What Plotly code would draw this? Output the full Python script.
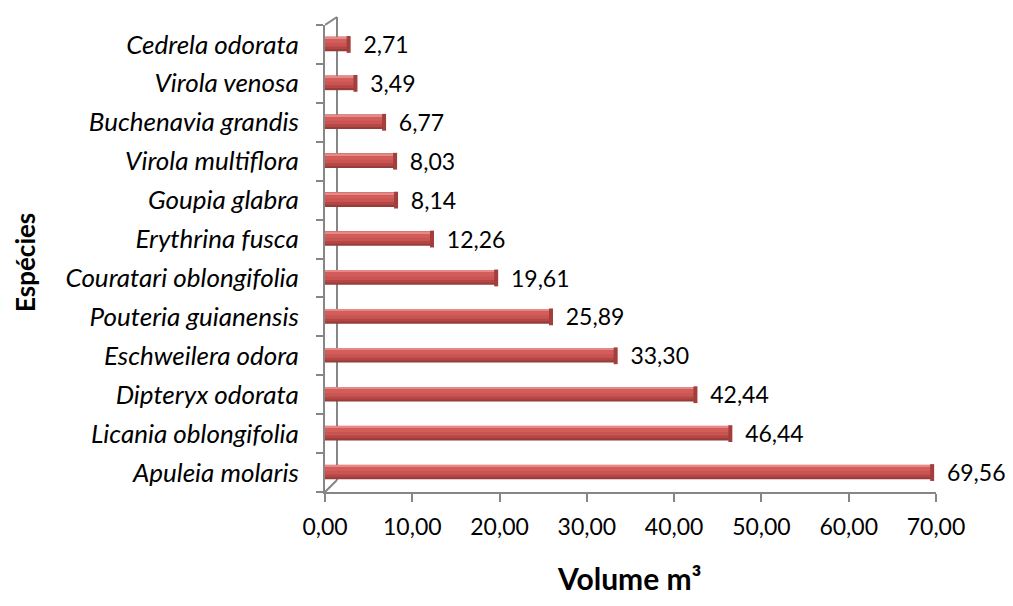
import plotly.graph_objects as go

# Data (bottom to top as drawn)
species = ["Apuleia molaris", "Licania oblongifolia", "Dipteryx odorata", "Eschweilera odora",
           "Pouteria guianensis", "Couratari oblongifolia", "Erythrina fusca", "Goupia glabra",
           "Virola multiflora", "Buchenavia grandis", "Virola venosa", "Cedrela odorata"]
volume = [69.56, 46.44, 42.44, 33.30, 25.89, 19.61, 12.26, 8.14, 8.03, 6.77, 3.49, 2.71]
x_ticks = [0, 10, 20, 30, 40, 50, 60, 70]

FONT = "Lato, Carlito, Calibri, sans-serif"
GRAY = "#868686"

fig = go.Figure()

# cylinder-like shading via stacked overlay bars
layers = [
    (0.37, -0.175, "#963c3a"),
    (0.31, -0.12, "#b44745"),
    (0.25, -0.05, "#c95452"),
    (0.15, 0.04, "#d35d5b"),
    (0.04, 0.155, "#e58a87"),
]
for i, (w, off, col) in enumerate(layers):
    fig.add_trace(go.Bar(
        x=volume, y=species, orientation="h",
        width=w, offset=off,
        marker=dict(color=col, line=dict(width=0)),
        text=["\u00a0\u00a0" + f"{v:.2f}".replace(".", ",") for v in volume] if i == 0 else None,
        textposition="outside" if i == 0 else "none",
        textfont=dict(family=FONT, size=23, color="#000000"),
        cliponaxis=False, constraintext="none",
        hoverinfo="skip", showlegend=False,
    ))

# darker end caps of the cylinders
fig.add_trace(go.Scatter(
    x=volume, y=species, mode="markers",
    marker=dict(symbol="line-ns-open", size=12, color="#a23f3d",
                line=dict(width=4, color="#a23f3d")),
    cliponaxis=False, hoverinfo="skip", showlegend=False,
))

fig.update_layout(
    width=1013, height=606,
    margin=dict(l=317, r=85, t=17, b=122),
    paper_bgcolor="white", plot_bgcolor="white",
    barmode="overlay",
    separators=",.",
    font=dict(family=FONT, size=23, color="#000000"),
    xaxis=dict(
        range=[0, 70], tickvals=x_ticks, tickformat=".2f",
        showgrid=False, zeroline=False, automargin=False,
        showline=True, linecolor=GRAY, linewidth=2,
        ticks="outside", ticklen=8, tickwidth=2, tickcolor=GRAY,
        ticklabelstandoff=5,
        tickfont=dict(family=FONT, size=23, color="#000000"),
    ),
    yaxis=dict(
        type="category", categoryorder="array", categoryarray=species,
        range=[-0.5, 11.5], tickson="boundaries", automargin=False,
        showgrid=False, zeroline=False,
        showline=True, linecolor=GRAY, linewidth=2,
        ticks="outside", ticklen=7, tickwidth=2, tickcolor=GRAY,
        ticklabelstandoff=19,
        tickfont=dict(family=FONT, size=26, color="#000000", style="italic"),
    ),
    annotations=[
        dict(text="<b>Espécies</b>", xref="paper", yref="paper",
             x=-0.491, y=0.4925, xanchor="center", yanchor="middle",
             textangle=-90, showarrow=False,
             font=dict(family=FONT, size=26, color="#000000")),
        dict(text="<b>Volume m³</b>", xref="paper", yref="paper",
             x=0.499, y=-0.184, xanchor="center", yanchor="middle",
             showarrow=False,
             font=dict(family=FONT, size=30, color="#000000")),
    ],
)

# 3D back-wall decoration lines
line = dict(color=GRAY, width=2)
shape_common = dict(type="line", xref="x", yref="paper", xsizemode="pixel", ysizemode="pixel",
                    xanchor=0, yanchor=0, line=line, layer="below")
fig.add_shape(**shape_common, x0=12, x1=12, y0=12, y1=475)
fig.add_shape(**shape_common, x0=0, x1=12, y0=0, y1=12)
fig.add_shape(**shape_common, x0=0, x1=12, y0=467, y1=475)

fig.write_html("out.html")
